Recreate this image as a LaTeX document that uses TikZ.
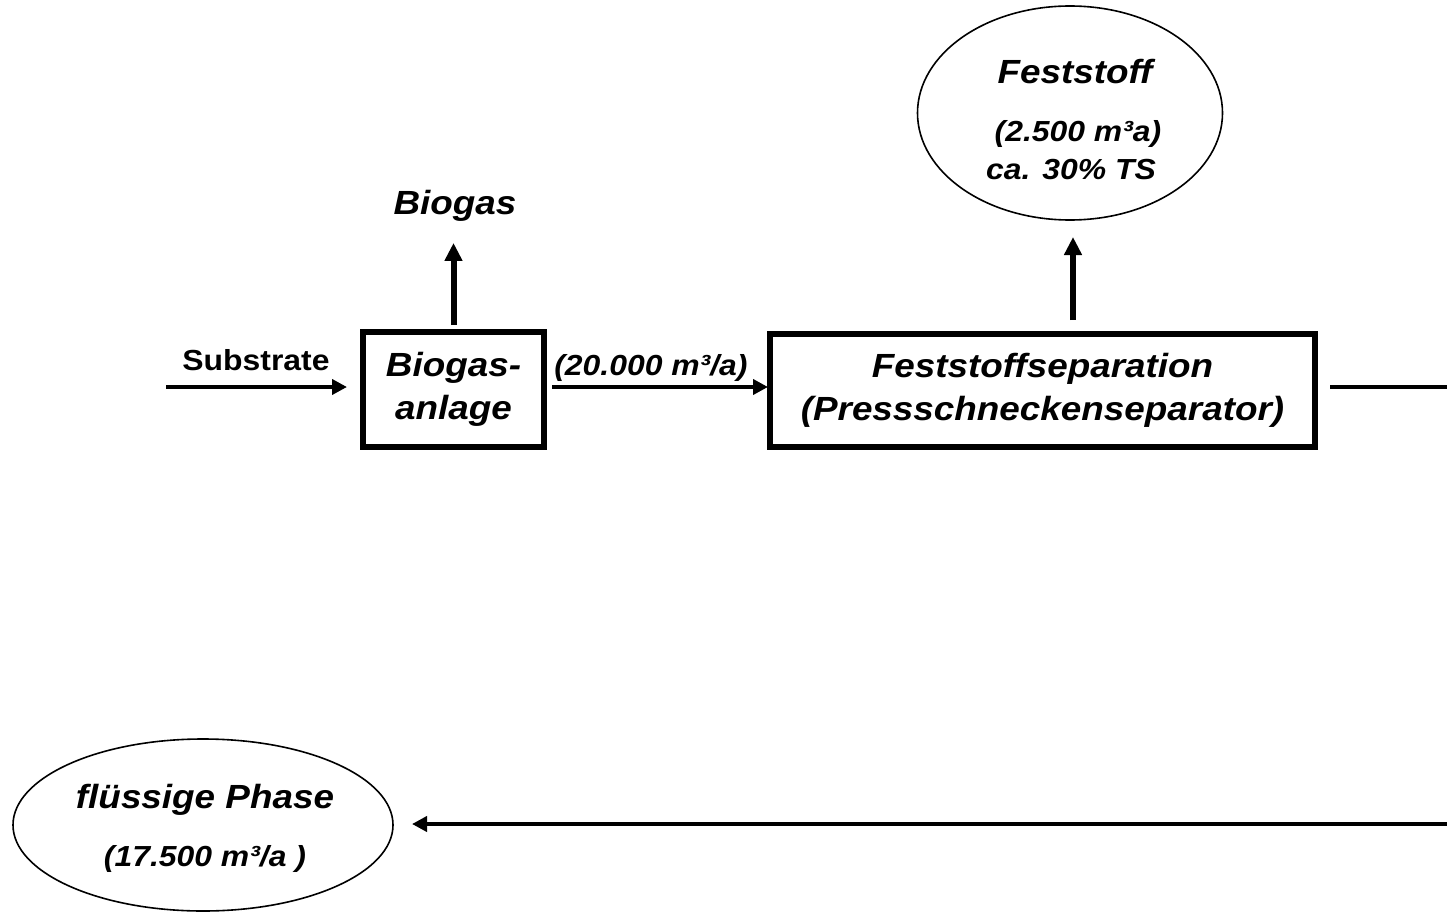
\documentclass[tikz,border=0pt]{standalone}
\usepackage{fontspec}
\setmainfont{Liberation Sans}[FakeStretch=1.1]
\usetikzlibrary{arrows.meta,shapes.geometric}

\newcommand\bigtxt{\fontsize{33.5}{43}\selectfont\bfseries\itshape}
\newcommand\smalltxt{\fontsize{29}{34}\selectfont\bfseries\itshape}
\newcommand\plaintxt{\fontsize{29}{34}\selectfont\bfseries}

\begin{document}
\begin{tikzpicture}[
  x=1pt, y=-1pt,
  box/.style={draw, line width=6pt, inner sep=0pt, outer sep=0pt,
              align=center, font=\bigtxt},
  oval/.style={draw, ellipse, line width=1.6pt, inner sep=0pt, outer sep=0pt},
  lbl/.style={anchor=base, inner sep=0pt, outer sep=0pt},
  flow/.style={line width=4.5pt, -{Triangle[length=15pt,width=15pt]}},
  rise/.style={line width=6pt, -{Triangle[length=18pt,width=17pt]}},
  plain/.style={line width=4.5pt}
]
\useasboundingbox (0,0) rectangle (1447,912);

% process units
\node[box, minimum width=181pt, minimum height=115pt] (bio) at (453.5,389.5)
  {Biogas-\\anlage};
\node[box, minimum width=545pt, minimum height=113pt] (sep) at (1042.5,390.5)
  {Feststoffseparation\\(Pressschneckenseparator)};

% products
\node[oval, minimum width=305pt, minimum height=214pt] (fest) at (1070,113) {};
\node[oval, minimum width=380pt, minimum height=172pt] (liq) at (203,825) {};

% labels
\node[lbl, font=\plaintxt] (subT) at (256,370) {Substrate};
\node[lbl, font=\bigtxt] (gasT) at (455,214) {Biogas};
\node[lbl, font=\smalltxt] (volT) at (651,375) {(20.000 m³/a)};
\node[lbl, font=\bigtxt] (festA) at (1075,84) {Feststoff};
\node[lbl, font=\smalltxt] (festB) at (1078,142) {(2.500 m³a)};
\node[lbl, font=\smalltxt] (festC) at (1071,180) {ca. 30\% TS};
\node[lbl, font=\bigtxt] (liqA) at (205,808) {flüssige Phase};
\node[lbl, font=\smalltxt] (liqB) at (205,866) {(17.500 m³/a )};

% flows
\coordinate (src) at (166,387);
\coordinate (edgeR) at (1447,387);
\coordinate (edgeB) at (1447,824);
\coordinate (sepUp) at (1073,334);

\draw[flow, shorten >=16pt] (src) -- (src -| bio.west);
\draw[flow, shorten <=8pt, shorten >=2pt] (bio.east |- src) -- (sep.west |- src);
\draw[rise, shorten <=7pt, shorten >=22pt] (bio.north) -- (bio.north |- gasT.south);
\draw[rise, shorten <=14pt, shorten >=17pt] (sepUp) -- (sepUp |- fest.south);
\draw[plain, shorten <=15pt] (sep.east |- edgeR) -- (edgeR);
\draw[flow, shorten >=19pt] (edgeB) -- (edgeB -| liq.east);
\end{tikzpicture}
\end{document}
